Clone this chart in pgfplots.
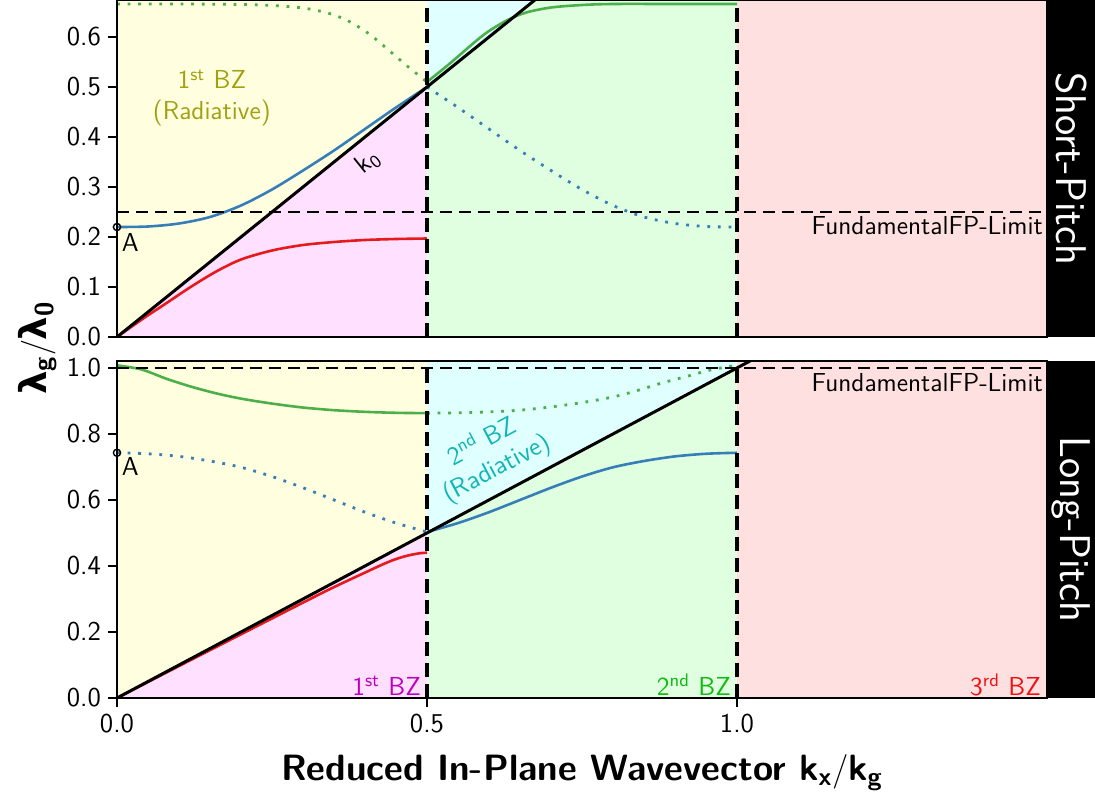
\documentclass[border=0pt]{standalone}
\usepackage{fontspec}
\usepackage{pgfplots}
\pgfplotsset{compat=1.18}
\newfontfamily\grk{DejaVu Sans}
\renewcommand{\familydefault}{\sfdefault}

% Set1-style curve colours
\definecolor{cblue}{HTML}{377EB8}
\definecolor{cred}{HTML}{E41A1C}
\definecolor{cgreen}{HTML}{4DAF4A}
% zone shading
\definecolor{zyel}{HTML}{FFFFE0}
\definecolor{zmag}{HTML}{FFE0FF}
\definecolor{zcyn}{HTML}{E0FFFF}
\definecolor{zgrn}{HTML}{E0FFE0}
\definecolor{zred}{HTML}{FFE0E0}
% annotation text
\definecolor{tolive}{HTML}{A0A010}
\definecolor{tcyan}{HTML}{10B5B5}
\definecolor{tmag}{HTML}{BF00BF}
\definecolor{tgreen}{HTML}{10BB10}
\definecolor{tred}{HTML}{EE1111}

\newcommand{\annfont}{\fontsize{13}{15.5}\selectfont\sffamily}

\pgfplotsset{
  panel/.style={
    scale only axis, width=465pt, height=168.5pt,
    xmin=0, xmax=1.5, ymin=0,
    axis on top,
    axis line style={line width=0.9pt},
    every tick/.style={black, line width=0.9pt},
    major tick length=4.5pt,
    tick align=outside,
    xtick pos=left, ytick pos=left,
    tick label style={font=\fontsize{13.6}{15}\selectfont\sffamily},
    /pgf/number format/assume math mode=true,
    yticklabel style={/pgf/number format/.cd, fixed, fixed zerofill, precision=1},
  },
  solidc/.style={line width=1.3pt},
  dotc/.style={line width=1.4pt, dash pattern=on 1.4pt off 3.9pt},
  vdash/.style={black, line width=1.6pt, dash pattern=on 7pt off 3.5pt},
  hdash/.style={black, line width=1.1pt, dash pattern=on 6pt off 3.5pt},
}

\begin{document}
\begin{tikzpicture}[x=1pt,y=1pt]
\path[use as bounding box] (-58.5,-230.5) rectangle (489,168.5);

% ---------- short pitch ----------
\begin{axis}[panel, at={(0pt,0pt)}, anchor=south west,
  ymax=0.674, ytick={0,0.1,...,0.6}, xtick=\empty]
  \addplot[draw=none, fill=zyel] coordinates {(0,0) (0.5,0.5) (0.5,0.7) (0,0.7)};
  \addplot[draw=none, fill=zmag] coordinates {(0,0) (0.5,0) (0.5,0.5)};
  \addplot[draw=none, fill=zcyn] coordinates {(0.5,0.5) (0.7,0.7) (0.5,0.7)};
  \addplot[draw=none, fill=zgrn] coordinates {(0.5,0) (1,0) (1,0.7) (0.7,0.7) (0.5,0.5)};
  \addplot[draw=none, fill=zred] coordinates {(1,0) (1.5,0) (1.5,0.7) (1,0.7)};

  % lowest band
  \addplot[cred, solidc, smooth] coordinates {
    (0,0) (0.04,0.035) (0.08,0.068) (0.12,0.101) (0.16,0.131) (0.20,0.155)
    (0.25,0.173) (0.30,0.184) (0.35,0.190) (0.40,0.194) (0.45,0.196) (0.50,0.197)};
  % second band
  \addplot[cblue, solidc, smooth] coordinates {
    (0,0.220) (0.05,0.221) (0.10,0.227) (0.15,0.240) (0.20,0.263) (0.25,0.295)
    (0.30,0.333) (0.35,0.373) (0.40,0.416) (0.45,0.459) (0.50,0.500)};
  \addplot[cblue, dotc, smooth] coordinates {
    (0.50,0.500) (0.55,0.459) (0.60,0.416) (0.65,0.373) (0.70,0.333) (0.75,0.295)
    (0.80,0.263) (0.85,0.240) (0.90,0.227) (0.95,0.221) (1.00,0.220)};
  % third band
  \addplot[cgreen, solidc, smooth] coordinates {
    (0.50,0.510) (0.51,0.520) (0.53,0.540) (0.55,0.561) (0.58,0.593) (0.60,0.612)
    (0.63,0.634) (0.66,0.649) (0.70,0.659) (0.75,0.664) (0.80,0.666) (0.90,0.666) (1.00,0.666)};
  \addplot[cgreen, dotc, smooth] coordinates {
    (0,0.666) (0.10,0.666) (0.20,0.665) (0.25,0.663) (0.30,0.658) (0.34,0.648)
    (0.37,0.634) (0.40,0.612) (0.42,0.593) (0.45,0.561) (0.47,0.540) (0.49,0.520) (0.50,0.510)};

  % light line
  \addplot[black, line width=1.5pt] coordinates {(0,0) (1.5,1.5)};
  % fundamental limit
  \addplot[hdash] coordinates {(0,0.25) (1.5,0.25)};
  % zone edges
  \addplot[vdash] coordinates {(0.5,0) (0.5,0.7)};
  \addplot[vdash] coordinates {(1.0,0) (1.0,0.7)};
  % point A
  \addplot[only marks, mark=o, mark size=1.8pt, mark options={black, line width=0.7pt}]
    coordinates {(0,0.220)};

  \node[font=\annfont, anchor=north west, inner sep=1pt] at (0.004,0.212) {A};
  \node[font=\annfont, text=tolive, align=center] at (0.153,0.478)
    {1\textsuperscript{st} BZ\\(Radiative)};
  \node[font=\annfont, rotate=38.9] at (0.405,0.350) {k\textsubscript{0}};
  \node[font=\annfont, anchor=north east, inner sep=1pt] at (1.497,0.245)
    {FundamentalFP-Limit};
\end{axis}

% ---------- long pitch ----------
\begin{axis}[panel, at={(0pt,-180.5pt)}, anchor=south west,
  ymax=1.021, ytick={0,0.2,...,1.0},
  xtick={0,0.5,1.0},
  xticklabel style={/pgf/number format/.cd, fixed, fixed zerofill, precision=1}]
  \addplot[draw=none, fill=zyel] coordinates {(0,0) (0.5,0.5) (0.5,1.1) (0,1.1)};
  \addplot[draw=none, fill=zmag] coordinates {(0,0) (0.5,0) (0.5,0.5)};
  \addplot[draw=none, fill=zcyn] coordinates {(0.5,0.5) (1,1) (1,1.1) (0.5,1.1)};
  \addplot[draw=none, fill=zgrn] coordinates {(0.5,0) (1,0) (1,1) (0.5,0.5)};
  \addplot[draw=none, fill=zred] coordinates {(1,0) (1.5,0) (1.5,1.1) (1,1.1)};

  % lowest band
  \addplot[cred, solidc, smooth] coordinates {
    (0,0) (0.10,0.097) (0.20,0.193) (0.30,0.289) (0.35,0.336) (0.40,0.380)
    (0.43,0.406) (0.45,0.421) (0.47,0.432) (0.49,0.439) (0.50,0.440)};
  % second band
  \addplot[cblue, dotc, smooth] coordinates {
    (0,0.743) (0.05,0.740) (0.10,0.732) (0.15,0.718) (0.20,0.699) (0.25,0.671)
    (0.30,0.637) (0.35,0.600) (0.40,0.563) (0.45,0.530) (0.50,0.503)};
  \addplot[cblue, solidc, smooth] coordinates {
    (0.50,0.503) (0.55,0.530) (0.60,0.563) (0.65,0.600) (0.70,0.637) (0.75,0.671)
    (0.80,0.699) (0.85,0.718) (0.90,0.732) (0.95,0.740) (1.00,0.743)};
  % third band
  \addplot[cgreen, solidc, smooth] coordinates {
    (0,1.008) (0.04,0.995) (0.08,0.967) (0.12,0.943) (0.16,0.923) (0.20,0.907)
    (0.25,0.892) (0.30,0.880) (0.35,0.872) (0.40,0.867) (0.45,0.864) (0.50,0.863)};
  \addplot[cgreen, dotc, smooth] coordinates {
    (0.50,0.863) (0.55,0.864) (0.60,0.867) (0.65,0.872) (0.70,0.882) (0.75,0.895)
    (0.80,0.912) (0.84,0.932) (0.88,0.955) (0.92,0.975) (0.96,0.995) (1.00,1.008)};

  \addplot[black, line width=1.5pt] coordinates {(0,0) (1.5,1.5)};
  \addplot[hdash] coordinates {(0,1.0) (1.5,1.0)};
  \addplot[vdash] coordinates {(0.5,0) (0.5,1.1)};
  \addplot[vdash] coordinates {(1.0,0) (1.0,1.1)};
  \addplot[only marks, mark=o, mark size=1.8pt, mark options={black, line width=0.7pt}]
    coordinates {(0,0.743)};

  \node[font=\annfont, anchor=north west, inner sep=1pt] at (0.004,0.735) {A};
  \node[font=\annfont, text=tcyan, rotate=28, inner sep=0pt] at (0.587,0.784) {2\textsuperscript{nd} BZ};
  \node[font=\annfont, text=tcyan, rotate=28, inner sep=0pt] at (0.613,0.692) {(Radiative)};
  \node[font=\annfont, anchor=north east, inner sep=1pt] at (1.497,0.992)
    {FundamentalFP-Limit};
  \node[font=\annfont, text=tmag, anchor=south east, inner sep=1pt] at (0.494,0.0)
    {1\textsuperscript{st} BZ};
  \node[font=\annfont, text=tgreen, anchor=south east, inner sep=1pt] at (0.994,0.0)
    {2\textsuperscript{nd} BZ};
  \node[font=\annfont, text=tred, anchor=south east, inner sep=1pt] at (1.494,0.0)
    {3\textsuperscript{rd} BZ};
\end{axis}

% panel strips
\fill[black] (465,0) rectangle (489,168.5);
\fill[black] (465,-180.5) rectangle (489,-12);
\node[text=white, rotate=-90, font=\fontsize{21.5}{25}\selectfont\sffamily] at (477,84.25) {Short-Pitch};
\node[text=white, rotate=-90, font=\fontsize{21.5}{25}\selectfont\sffamily] at (477,-96.25) {Long-Pitch};

% shared axis labels
\node[rotate=90, font=\fontsize{18.5}{22}\selectfont\sffamily\bfseries] at (-39.5,-5.5)
  {{\grk\bfseries λ}\textsubscript{g}$/${\grk\bfseries λ}\textsubscript{0}};
\node[font=\fontsize{18.3}{22}\selectfont\sffamily\bfseries] at (232.5,-218)
  {Reduced In-Plane Wavevector k\textsubscript{x}$/$k\textsubscript{g}};
\end{tikzpicture}
\end{document}
